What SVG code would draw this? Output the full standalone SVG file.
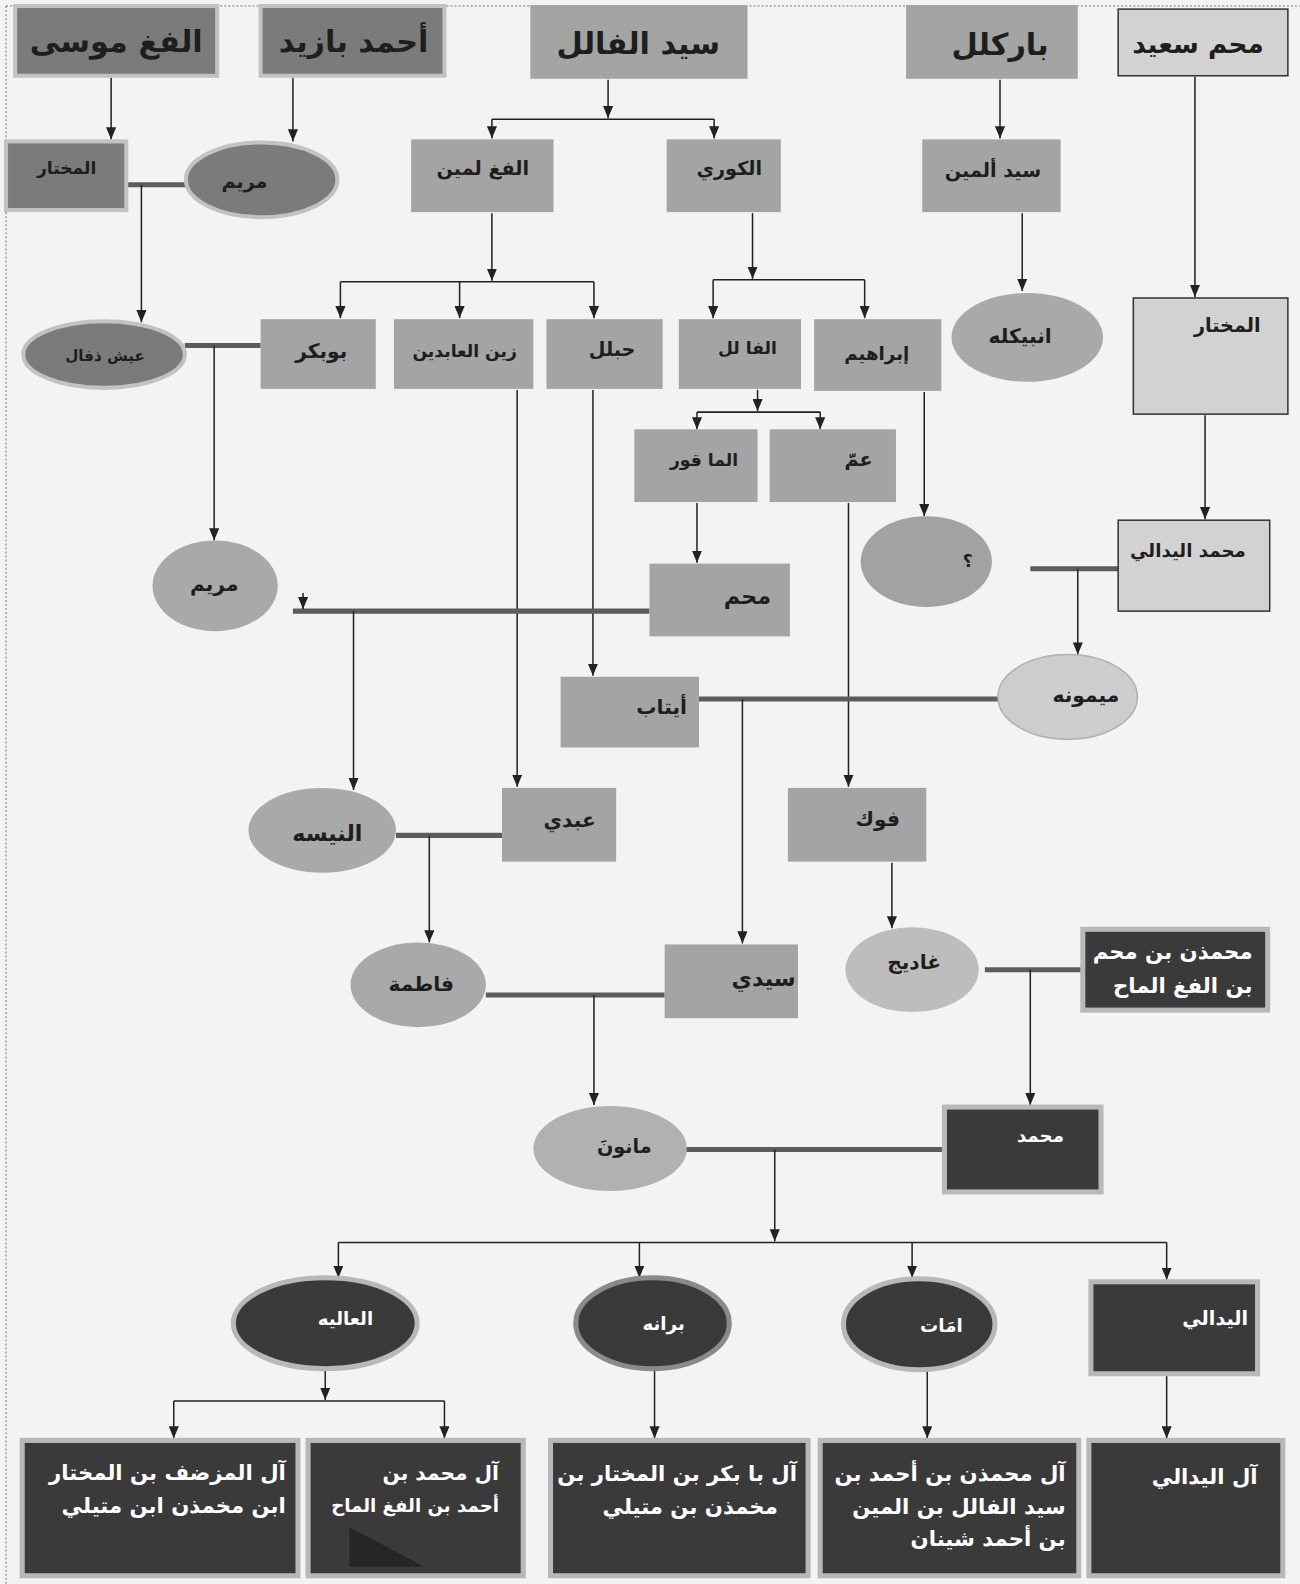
<svg xmlns="http://www.w3.org/2000/svg" width="1300" height="1584" viewBox="0 0 1300 1584">
<defs>
<marker id="ar" viewBox="0 0 12 10" refX="12" refY="5" markerWidth="12" markerHeight="10" markerUnits="userSpaceOnUse" orient="auto">
<path d="M0,0 L12,5 L0,10 z" fill="#222"/>
</marker>
<style>
text{font-family:"DejaVu Sans","Noto Sans",sans-serif;font-weight:bold;text-anchor:middle;dominant-baseline:central;fill:#1e1e1e}
.t{font-size:30px}
.m{font-size:19px}
.w{fill:#ffffff;font-size:20px}
.r{text-anchor:end}
.dk{fill:#7b7b7b;stroke:#c2c2c2;stroke-width:4}
.md{fill:#a4a4a4}
.lt{fill:#d2d2d2;stroke:#333;stroke-width:1.5}
.bl{fill:#3a3a3a;stroke:#b8b8b8;stroke-width:5}
.ea{fill:#a9a9a9}
.el{fill:#cdcdcd;stroke:#b0b0b0;stroke-width:1.5}
.ln{fill:none;stroke:#222;stroke-width:1.5}
.ma{fill:none;stroke:#5c5c5c;stroke-width:5}
</style>
</defs>
<rect width="1300" height="1584" fill="#f3f3f1"/>
<g transform="scale(1.0101)">
<path d="M6,6 H1287 M6,6 V1568" fill="none" stroke="#777" stroke-width="1" stroke-dasharray="2 2"/>

<g id="connectors">
<path class="ln" d="M110,77 V138" marker-end="url(#ar)"/>
<path class="ln" d="M290,77 V140" marker-end="url(#ar)"/>
<path class="ln" d="M602,79 V117" marker-end="url(#ar)"/>
<path class="ln" d="M487,118 H707"/>
<path class="ln" d="M487,118 V137" marker-end="url(#ar)"/>
<path class="ln" d="M707,118 V137" marker-end="url(#ar)"/>
<path class="ln" d="M990,79 V137" marker-end="url(#ar)"/>
<path class="ln" d="M1183,76 V294" marker-end="url(#ar)"/>
<path class="ln" d="M487,211 V278" marker-end="url(#ar)"/>
<path class="ln" d="M337,279 H588"/>
<path class="ln" d="M337,279 V315" marker-end="url(#ar)"/>
<path class="ln" d="M455,279 V315" marker-end="url(#ar)"/>
<path class="ln" d="M588,279 V315" marker-end="url(#ar)"/>
<path class="ln" d="M745,211 V276" marker-end="url(#ar)"/>
<path class="ln" d="M706,277 H856"/>
<path class="ln" d="M706,277 V315" marker-end="url(#ar)"/>
<path class="ln" d="M856,277 V315" marker-end="url(#ar)"/>
<path class="ln" d="M1012,211 V288" marker-end="url(#ar)"/>
<path class="ln" d="M750,386 V407" marker-end="url(#ar)"/>
<path class="ln" d="M690,408 H812"/>
<path class="ln" d="M690,408 V425" marker-end="url(#ar)"/>
<path class="ln" d="M812,408 V425" marker-end="url(#ar)"/>
<path class="ln" d="M1193,411 V514" marker-end="url(#ar)"/>
<path class="ln" d="M915,388 V511" marker-end="url(#ar)"/>
<path class="ma" d="M125,183 H185"/>
<path class="ln" d="M140,183 V319" marker-end="url(#ar)"/>
<path class="ma" d="M183,342 H258"/>
<path class="ln" d="M212,342 V535" marker-end="url(#ar)"/>
<path class="ln" d="M512,386 V779" marker-end="url(#ar)"/>
<path class="ln" d="M587,386 V669" marker-end="url(#ar)"/>
<path class="ln" d="M690,498 V557" marker-end="url(#ar)"/>
<path class="ln" d="M840,498 V779" marker-end="url(#ar)"/>
<path class="ma" d="M290,605 H643"/>
<path class="ln" d="M300,587 V603" marker-end="url(#ar)"/>
<path class="ln" d="M350,605 V782" marker-end="url(#ar)"/>
<path class="ma" d="M1020,563 H1107"/>
<path class="ln" d="M1067,563 V648" marker-end="url(#ar)"/>
<path class="ma" d="M692,692 H989"/>
<path class="ln" d="M735,692 V934" marker-end="url(#ar)"/>
<path class="ma" d="M392,827 H497"/>
<path class="ln" d="M425,827 V933" marker-end="url(#ar)"/>
<path class="ln" d="M883,854 V919" marker-end="url(#ar)"/>
<path class="ma" d="M481,985 H658"/>
<path class="ln" d="M588,985 V1094" marker-end="url(#ar)"/>
<path class="ma" d="M975,960 H1072"/>
<path class="ln" d="M1020,960 V1094" marker-end="url(#ar)"/>
<path class="ma" d="M679,1138 H935"/>
<path class="ln" d="M767,1138 V1229" marker-end="url(#ar)"/>
<path class="ln" d="M335,1230 H1155"/>
<path class="ln" d="M335,1230 V1265" marker-end="url(#ar)"/>
<path class="ln" d="M633,1230 V1265" marker-end="url(#ar)"/>
<path class="ln" d="M903,1230 V1265" marker-end="url(#ar)"/>
<path class="ln" d="M1155,1230 V1267" marker-end="url(#ar)"/>
<path class="ln" d="M322,1356 V1386" marker-end="url(#ar)"/>
<path class="ln" d="M172,1387 H440"/>
<path class="ln" d="M172,1387 V1424" marker-end="url(#ar)"/>
<path class="ln" d="M440,1387 V1424" marker-end="url(#ar)"/>
<path class="ln" d="M648,1356 V1424" marker-end="url(#ar)"/>
<path class="ln" d="M918,1356 V1424" marker-end="url(#ar)"/>
<path class="ln" d="M1155,1362 V1424" marker-end="url(#ar)"/>
</g>

<g id="n-alfagh-musa"><rect class="dk" x="15" y="6" width="200" height="69"/><text class="t" x="115" y="41">الفغ موسى</text></g>
<g id="n-ahmed-bazid"><rect class="dk" x="258" y="6" width="182" height="69"/><text class="t" x="350" y="41">أحمد بازيد</text></g>
<g id="n-sid-alfalil"><rect class="md" x="525" y="5" width="215" height="73"/><text class="t" x="632" y="43">سيد الفالل</text></g>
<g id="n-barkall"><rect class="md" x="897" y="5" width="170" height="73"/><text class="t" x="990" y="44">باركلل</text></g>
<g id="n-muhamm-said"><rect class="lt" x="1107" y="9" width="168" height="66"/><text x="1186" y="44" style="font-size:26px">محم سعيد</text></g>

<g id="n-almukhtar-1"><rect class="dk" x="6" y="140" width="119" height="68"/><text class="m" x="66" y="166" style="font-size:17px">المختار</text></g>
<g id="n-maryam-1"><ellipse class="dk" cx="259" cy="178" rx="75" ry="37"/><text class="m" x="242" y="180">مريم</text></g>
<g id="n-alfagh-lamin"><rect class="md" x="407" y="138" width="141" height="72"/><text class="m" x="478" y="167">الفغ لمين</text></g>
<g id="n-alkouri"><rect class="md" x="660" y="138" width="113" height="72"/><text class="m" x="722" y="167">الكوري</text></g>
<g id="n-sid-almin"><rect class="md" x="913" y="138" width="137" height="72"/><text class="m" x="983" y="169">سيد ألمين</text></g>

<g id="n-aich-dhfal"><ellipse class="dk" cx="103" cy="351" rx="80" ry="33"/><text x="104" y="352" style="font-size:15px">عيش ذفال</text></g>
<g id="n-boubakr"><rect class="md" x="258" y="316" width="114" height="69"/><text class="m" x="318" y="347" style="font-size:20px">بوبكر</text></g>
<g id="n-zein"><rect class="md" x="390" y="316" width="138" height="69"/><text class="m" x="460" y="347" style="font-size:17px">زين العابدين</text></g>
<g id="n-hbelel"><rect class="md" x="541" y="316" width="115" height="69"/><text class="m" x="606" y="346">حبلل</text></g>
<g id="n-alfalil"><rect class="md" x="672" y="316" width="121" height="69"/><text class="m" x="740" y="345" style="font-size:17px">الفا لل</text></g>
<g id="n-ibrahim"><rect class="md" x="806" y="316" width="126" height="71"/><text class="m" x="868" y="350" style="font-size:18px">إبراهيم</text></g>
<g id="n-enbikeleh"><ellipse class="ea" cx="1017" cy="334" rx="75" ry="44"/><text class="m" x="1010" y="333" style="font-size:20px">انبيكله</text></g>
<g id="n-almukhtar-2"><rect class="lt" x="1122" y="295" width="153" height="115"/><text class="m" x="1215" y="322">المختار</text></g>

<g id="n-almagour"><rect class="md" x="628" y="425" width="122" height="72"/><text class="m" x="697" y="455" style="font-size:17px">الما قور</text></g>
<g id="n-amm"><rect class="md" x="762" y="425" width="125" height="72"/><text class="m" x="850" y="455">عمّ</text></g>
<g id="n-unknown"><ellipse class="ea" cx="917" cy="556" rx="65" ry="45" style="fill:#a2a2a2"/><text class="m" x="958" y="555" style="font-size:17px">؟</text></g>
<g id="n-mohamed-alyadali"><rect class="lt" x="1107" y="515" width="150" height="90"/><text class="m" x="1176" y="545" style="font-size:18px">محمد اليدالي</text></g>

<g id="n-maryam-2"><ellipse class="ea" cx="213" cy="580" rx="62" ry="45"/><text class="m" x="212" y="578" style="font-size:20px">مريم</text></g>
<g id="n-muhamm"><rect class="md" x="643" y="558" width="139" height="72"/><text class="m" x="740" y="590" style="font-size:22px">محم</text></g>
<g id="n-aytab"><rect class="md" x="555" y="670" width="137" height="70"/><text class="m" x="655" y="700" style="font-size:20px">أيتاب</text></g>
<g id="n-maymouna"><ellipse class="el" cx="1057" cy="690" rx="69" ry="42"/><text class="m" x="1075" y="688" style="font-size:20px">ميمونه</text></g>

<g id="n-alnisa"><ellipse class="ea" cx="319" cy="822" rx="73" ry="42"/><text class="m" x="324" y="825" style="font-size:22px">النيسه</text></g>
<g id="n-abdi"><rect class="md" x="497" y="780" width="113" height="73"/><text class="m" x="564" y="812" style="font-size:20px">عبدي</text></g>
<g id="n-fouk"><rect class="md" x="780" y="780" width="137" height="73"/><text class="m" x="869" y="811" style="font-size:20px">فوك</text></g>

<g id="n-fatima"><ellipse class="ea" cx="414" cy="975" rx="67" ry="42"/><text class="m" x="417" y="974" style="font-size:20px">فاطمة</text></g>
<g id="n-sidi"><rect class="md" x="658" y="935" width="132" height="73"/><text class="m" x="756" y="968" style="font-size:22px">سيدي</text></g>
<g id="n-ghadij"><ellipse class="ea" cx="903" cy="960" rx="66" ry="42" style="fill:#bdbdbd"/><text class="m" x="905" y="952" style="font-size:20px">غاديج</text></g>
<g id="n-muhamdhen"><rect class="bl" x="1072" y="920" width="183" height="80"/><text class="w r" x="1240" y="942" style="font-size:21px">محمذن بن محم</text><text class="w r" x="1240" y="976" style="font-size:21px">بن الفغ الماح</text></g>

<g id="n-manoun"><ellipse class="ea" cx="604" cy="1137" rx="76" ry="42" style="fill:#b1b1b1"/><text class="m" x="618" y="1135" style="font-size:19px">مانونَ</text></g>
<g id="n-mohamed"><rect class="bl" x="935" y="1096" width="155" height="84"/><text class="w" x="1030" y="1124" style="font-size:18px">محمد</text></g>

<g id="n-alaliya"><ellipse class="bl" cx="322" cy="1310" rx="91" ry="45"/><text class="w" x="342" y="1305" style="font-size:18px">العاليه</text></g>
<g id="n-barana"><ellipse class="bl" cx="646" cy="1310" rx="76" ry="45" style="stroke:#8a8a8a"/><text class="w" x="657" y="1310" style="font-size:18px">برانه</text></g>
<g id="n-amat"><ellipse class="bl" cx="910" cy="1311" rx="75" ry="45"/><text class="w" x="932" y="1312" style="font-size:18px">امَات</text></g>
<g id="n-alyadali"><rect class="bl" x="1080" y="1269" width="165" height="91"/><text class="w" x="1203" y="1305" style="font-size:19px">اليدالي</text></g>

<g id="n-al-almudhaf"><rect class="bl" x="22" y="1426" width="273" height="134"/><text class="w r" x="283" y="1458" style="font-size:21px">آل المزضف بن  المختار</text><text class="w r" x="283" y="1490" style="font-size:21px">ابن مخمذن ابن متيلي</text></g>
<g id="n-al-mohamed-ahmed"><rect class="bl" x="305" y="1426" width="213" height="134"/><polygon points="346,1512 346,1551 420,1551" fill="#262626"/><text class="w r" x="494" y="1458" style="font-size:20px">آل محمد بن</text><text class="w r" x="494" y="1490" style="font-size:18px">أحمد بن الفغ  الماح</text></g>
<g id="n-al-baba-bakr"><rect class="bl" x="545" y="1426" width="255" height="134"/><text class="w r" x="789" y="1459" style="font-size:21px">آل با بكر بن المختار بن</text><text class="w r" x="770" y="1491" style="font-size:21px">مخمذن  بن متيلي</text></g>
<g id="n-al-muhamdhen-ahmed"><rect class="bl" x="812" y="1426" width="256" height="134"/><text class="w r" x="1055" y="1459" style="font-size:21px">آل محمذن بن أحمد بن</text><text class="w r" x="1055" y="1491" style="font-size:21px">سيد الفالل بن المين</text><text class="w r" x="1055" y="1523" style="font-size:21px">بن أحمد شينان</text></g>
<g id="n-al-alyadali"><rect class="bl" x="1078" y="1426" width="192" height="134"/><text class="w r" x="1245" y="1462" style="font-size:21px">آل اليدالي</text></g>
</g>
</svg>
